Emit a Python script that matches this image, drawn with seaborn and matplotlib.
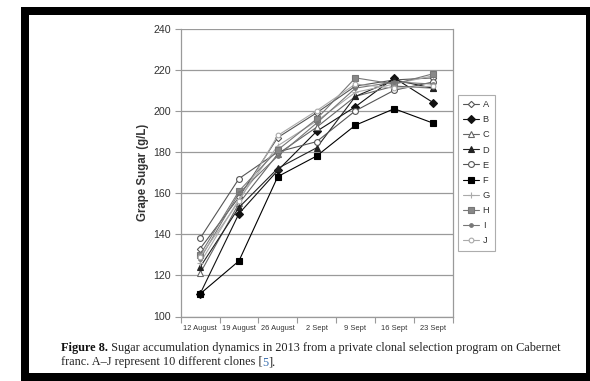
import matplotlib
matplotlib.use("Agg")
import matplotlib.pyplot as plt
from matplotlib.patches import Rectangle
import numpy as np
import pandas as pd
import seaborn as sns

# Sampling dates and sugar readings (g/L) per clone
dates = ["12 August", "19 August", "26 August", "2 Sept", "9 Sept", "16 Sept", "23 Sept"]
clone_a = [133, 158, 187, 199, 212, 215, 216]
clone_b = [111, 150, 171, 190, 202, 216, 204]
clone_c = [121, 155, 179, 192, 207, 212, 211]
clone_d = [124, 153, 172, 182, 207, 215, 211]
clone_e = [138, 167, 180, 185, 200, 210, 214]
clone_f = [111, 127, 168, 178, 193, 201, 194]
clone_g = [126, 157, 183, 195, 209, 213, 217]
clone_h = [130, 161, 181, 196, 216, 213, 218]
clone_i = [128, 160, 178, 194, 211, 214, 213]
clone_j = [129, 156, 188, 200, 213, 211, 212]
clones = ["A", "B", "C", "D", "E", "F", "G", "H", "I", "J"]
values = [clone_a, clone_b, clone_c, clone_d, clone_e,
          clone_f, clone_g, clone_h, clone_i, clone_j]

df = pd.DataFrame({
    "date": [d for _ in clones for d in dates],
    "sugar": [v for vals in values for v in vals],
    "clone": [c for c in clones for _ in dates],
})

# Monochrome marker styles per clone
styles = {
    "A": dict(color="#555555", marker="D", mfc="white", ms=3.2),
    "B": dict(color="#111111", marker="D", mfc="#111111", ms=3.6),
    "C": dict(color="#666666", marker="^", mfc="white", ms=3.8),
    "D": dict(color="#222222", marker="^", mfc="#222222", ms=3.8),
    "E": dict(color="#555555", marker="o", mfc="white", ms=4.2),
    "F": dict(color="#000000", marker="s", mfc="#000000", ms=4.2),
    "G": dict(color="#aaaaaa", marker="+", mfc="#aaaaaa", ms=4.0),
    "H": dict(color="#777777", marker="s", mfc="#888888", ms=3.8),
    "I": dict(color="#777777", marker="o", mfc="#777777", ms=2.6),
    "J": dict(color="#aaaaaa", marker="o", mfc="white", ms=3.4),
}

sns.set_theme(style="white")
plt.rcParams["font.family"] = ["Liberation Sans", "DejaVu Sans"]

W, H = 590, 381
fig = plt.figure(figsize=(W / 100, H / 100), dpi=100)
fig.patch.set_facecolor("white")

def fx(px):
    return px / W

def fy(py):
    return 1 - py / H

ax = fig.add_axes([fx(180.7), fy(316.5), fx(452.5) - fx(180.7), fy(28.5) - fy(316.5)])

for c in clones:
    s = styles[c]
    sns.lineplot(data=df[df["clone"] == c], x="date", y="sugar", sort=False,
                 errorbar=None, ax=ax, label=c, color=s["color"], lw=0.8,
                 marker=s["marker"], markersize=s["ms"],
                 markerfacecolor=s["mfc"], markeredgecolor=s["color"],
                 markeredgewidth=0.8)

ax.set_xlim(-0.5, len(dates) - 0.5)
ax.set_ylim(100, 240)
ax.set_yticks(np.arange(100, 241, 20))
ax.set_xticks(np.arange(len(dates)))
ax.set_xticklabels(dates)
ax.set_xticks(np.arange(-0.5, len(dates), 1), minor=True)
ax.yaxis.grid(True, color="#9a9a9a", lw=0.9)
ax.xaxis.grid(False)
ax.set_axisbelow(True)
ax.set_xlabel("")
ax.set_ylabel("Grape Sugar (g/L)", fontsize=8.3, fontweight="bold", color="#333333", labelpad=3)

for side in ("left", "bottom", "right"):
    ax.spines[side].set_visible(True)
    ax.spines[side].set_color("#9a9a9a")
    ax.spines[side].set_linewidth(0.9)
ax.spines["top"].set_visible(False)

ax.tick_params(axis="y", which="major", direction="out", length=4, width=0.8,
               color="#9a9a9a", labelsize=7.7, labelcolor="#333333", left=True, pad=3)
ax.tick_params(axis="x", which="major", length=0, labelsize=5.4,
               labelcolor="#333333", pad=6)
ax.tick_params(axis="x", which="minor", direction="out", length=4, width=0.8,
               color="#9a9a9a", bottom=True)

ax.get_legend().remove()
handles, labels = ax.get_legend_handles_labels()
leg = fig.legend(handles, labels, loc="upper left", bbox_to_anchor=(fx(458), fy(95)),
                 frameon=True, fancybox=False, fontsize=6.7, handlelength=1.7,
                 handletextpad=0.4, labelspacing=0.66, borderpad=0.55,
                 borderaxespad=0)
leg.get_frame().set_edgecolor("#999999")
leg.get_frame().set_linewidth(0.8)
for t in leg.get_texts():
    t.set_color("#333333")

# Caption below the chart, bold figure number and a blue citation
renderer = fig.canvas.get_renderer()
serif = ["Liberation Serif", "DejaVu Serif"]

def put_line(pieces, x0, ypx, size):
    x = fx(x0)
    for txt, weight, col in pieces:
        t = fig.text(x, fy(ypx), txt, fontsize=size, fontweight=weight, color=col,
                     family=serif, va="baseline", ha="left")
        bb = t.get_window_extent(renderer=renderer)
        x += bb.width / W
    return x

line1 = [("Figure 8.", "bold", "#111111"),
         (" Sugar accumulation dynamics in 2013 from a private clonal selection program on Cabernet",
          "normal", "#222222")]
line2 = [("franc. A\u2013J represent 10 different clones [", "normal", "#222222"),
         ("5", "normal", "#3a6fb0"),
         ("].", "normal", "#222222")]

size = 8.0
end = put_line(line1, 61, 350.5, size)
for t in list(fig.texts):
    t.remove()
size = size * (557 - 61) / (end * W - 61)
put_line(line1, 61, 350.5, size)
put_line(line2, 61, 365.5, size)

# Black frame around the page
frame_kw = dict(transform=fig.transFigure, color="black", lw=0, zorder=10)
fig.patches.append(Rectangle((fx(21), fy(15)), 1 - fx(21), fy(7) - fy(15), **frame_kw))
fig.patches.append(Rectangle((fx(21), 0), fx(29) - fx(21), fy(7), **frame_kw))
fig.patches.append(Rectangle((fx(21), 0), 1 - fx(21), fy(373), **frame_kw))
fig.patches.append(Rectangle((fx(586), 0), 1 - fx(586), fy(7), **frame_kw))

fig.savefig("out.png", dpi=100, facecolor="white")
